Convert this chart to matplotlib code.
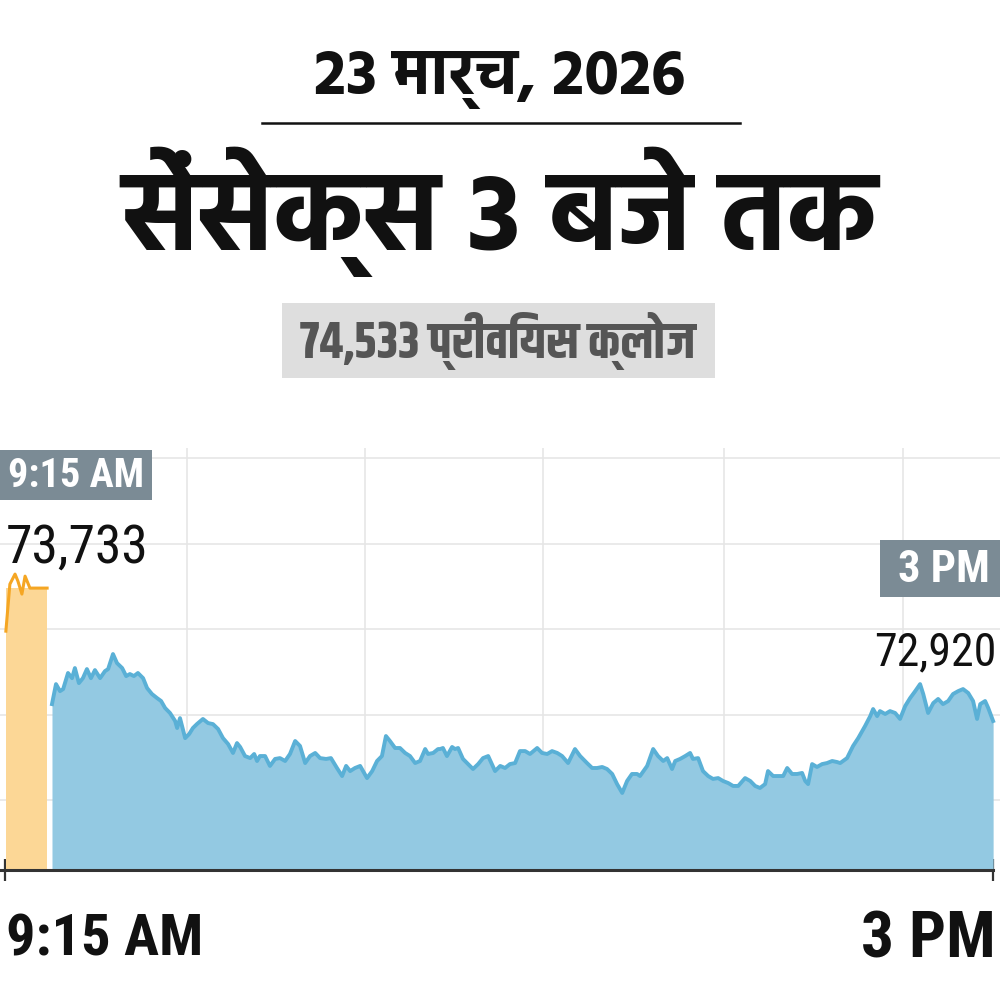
import numpy as np
import matplotlib
matplotlib.use("Agg")
import matplotlib.pyplot as plt
from matplotlib import font_manager
from matplotlib.ft2font import FT2Font
from matplotlib.patches import Rectangle
from matplotlib.lines import Line2D

# --- data: Sensex on 23 March 2026, minutes after 9:15 AM ---
open_minutes = [0.3, 1.7, 3.5, 4.5, 5.9, 7.0, 8.7, 14.7]
open_values = [73488, 73763, 73822, 73781, 73705, 73810, 73740, 73740]

day_minutes = [
    16.4, 17.8, 19.2, 20.3, 22.0, 23.4, 24.4, 25.8, 27.2, 28.6, 30.0, 31.4, 33.2, 34.9, 36.0,
    37.7, 39.1, 40.9, 42.3, 43.6, 45.0, 46.4, 48.2, 49.6, 51.3, 53.1, 54.5, 55.9, 57.6, 59.4,
    60.1, 61.1, 62.9, 64.3, 65.6, 67.0, 69.1, 70.9, 72.6, 74.4, 76.1, 77.9, 79.6, 81.0, 82.1,
    83.8, 85.6, 87.0, 88.0, 89.0, 90.8, 92.5, 94.3, 96.0, 97.8, 99.5, 101.3, 103.0, 104.8, 106.5,
    108.3, 110.0, 112.1, 113.8, 115.9, 117.7, 119.1, 120.5, 122.2, 124.0, 126.4, 128.2, 129.9,
    131.6, 133.0, 134.4, 136.2, 137.9, 139.7, 141.4, 143.2, 144.9, 146.7, 147.7, 149.5, 151.2,
    151.9, 152.9, 154.3, 156.1, 157.1, 158.2, 159.9, 161.7, 163.4, 165.2, 166.9, 168.7, 171.1,
    172.9, 174.6, 176.3, 178.1, 179.8, 181.6, 183.3, 185.8, 187.5, 189.3, 191.0, 192.8, 194.5,
    196.6, 199.0, 200.8, 203.2, 205.0, 206.7, 208.5, 210.2, 212.0, 213.7, 215.5, 217.2, 218.9,
    220.7, 221.7, 224.2, 226.3, 228.0, 229.8, 231.2, 232.9, 234.0, 235.7, 237.5, 239.2, 240.2,
    242.0, 243.7, 245.5, 247.2, 249.0, 250.7, 252.5, 254.2, 256.0, 258.4, 260.2, 261.9, 263.6,
    265.4, 266.4, 268.2, 269.9, 271.7, 273.1, 274.8, 276.6, 278.3, 279.4, 280.4, 281.8, 283.5,
    285.3, 287.0, 288.8, 290.5, 291.6, 294.0, 296.1, 297.9, 300.3, 302.1, 303.1, 304.5, 305.5,
    307.3, 309.0, 310.8, 312.5, 314.3, 316.0, 317.8, 319.5, 320.6, 322.3, 324.1, 325.8, 327.5,
    329.3, 331.0, 332.8, 334.5, 336.3, 338.0, 339.4, 340.5, 342.2, 343.3, 345.0,
]
day_values = [
    73061, 73178, 73137, 73149, 73243, 73213, 73272, 73184, 73213, 73266, 73213, 73260, 73213, 73254, 73266,
    73354, 73301, 73272, 73225, 73237, 73225, 73243, 73213, 73155, 73120, 73096, 73079, 73038, 73009, 72962,
    72921, 72979, 72862, 72886, 72921, 72944, 72974, 72950, 72944, 72915, 72862, 72827, 72775, 72833, 72810,
    72757, 72745, 72769, 72728, 72757, 72757, 72699, 72740, 72745, 72728, 72769, 72845, 72816, 72716, 72757,
    72775, 72745, 72740, 72745, 72687, 72640, 72699, 72669, 72687, 72699, 72628, 72669, 72728,
    72757, 72874, 72845, 72804, 72804, 72775, 72757, 72716, 72728, 72798, 72769, 72775, 72798,
    72798, 72804, 72757, 72810, 72798, 72804, 72740, 72710, 72681, 72710, 72745, 72757, 72669,
    72699, 72687, 72710, 72716, 72786, 72786, 72769, 72804, 72775, 72769, 72786, 72775, 72757,
    72716, 72798, 72757, 72716, 72687, 72687, 72693, 72681, 72652, 72593, 72541, 72611, 72652,
    72652, 72640, 72699, 72798, 72757, 72728, 72745, 72681, 72728, 72740, 72757, 72775, 72740,
    72745, 72669, 72640, 72623, 72628, 72611, 72599, 72582, 72582, 72628, 72611, 72582, 72570,
    72593, 72669, 72640, 72640, 72640, 72687, 72652, 72652, 72658, 72611, 72593, 72710, 72693,
    72710, 72716, 72728, 72722, 72716, 72745, 72816, 72862, 72933, 72991, 73032, 72991, 73020,
    73003, 73020, 73009, 72974, 73050, 73096, 73137, 73178, 73120, 73009, 73067, 73091, 73061,
    73079, 73120, 73137, 73149, 73126, 73079, 72974, 73061, 73079, 73038, 72962,
]

title_date = "23 मार्च, 2026"
title_main = "सेंसेक्स 3 बजे तक"
prev_close_label = "74,533 प्रीवियस क्लोज"
start_label, start_value = "9:15 AM", "73,733"
end_label, end_value = "3 PM", "72,920"
y_grid = [72500, 73000, 73500, 74000, 74500]
x_grid = [63.5, 125.7, 187.9, 251.1, 313.6]


# pick installed fonts: one that has Devanagari glyphs, one narrow Latin face
def covers(fname, ch):
    try:
        return ord(ch) in FT2Font(fname).get_charmap()
    except Exception:
        return False


deva_names = {f.name for f in font_manager.fontManager.ttflist if covers(f.fname, "स")}
all_names = {f.name for f in font_manager.fontManager.ttflist}


def pick(prefs, pool):
    for p in prefs:
        if p in pool:
            return p
    return None


deva = pick(["Hind", "Mukta", "Noto Sans Devanagari", "Yantramanav", "Poppins",
             "Martel Sans", "FreeSans"], deva_names)
deva_narrow = pick(["Khand", "Teko", "Rajdhani", "Hind", "Mukta", "FreeSans"], deva_names) or deva
narrow = pick(["Roboto Condensed", "Barlow Condensed", "Archivo Narrow", "Asap Condensed"], all_names)
HINDI = [deva, "DejaVu Sans"] if deva else ["DejaVu Sans"]
HINDI_N = [deva_narrow, "DejaVu Sans"] if deva_narrow else HINDI
NARROW = [narrow, "DejaVu Sans"] if narrow else ["DejaVu Sans"]

fig = plt.figure(figsize=(10, 10), dpi=100)
renderer = fig.canvas.get_renderer()


def fit_text(x, y, s, size, left, right, **kw):
    # place a figure text (x, y in pixels from top-left) and shrink it until it fits
    t = fig.text(x / 1000, 1 - y / 1000, s, fontsize=size, **kw)
    while size > 6:
        bb = t.get_window_extent(renderer)
        if bb.x0 >= left and bb.x1 <= right:
            break
        size -= 0.5
        t.set_fontsize(size)
    return t


# chart area
ax = fig.add_axes([0, 0.13, 1, 0.422])
ax.set_xlim(-1.75, 347.4)
ax.set_ylim(72090, 74560)

ax.fill_between(open_minutes, 72090, open_values[-1], color="#fcd796", lw=0, zorder=2)
ax.plot(open_minutes, open_values, color="#f5a623", lw=2.2, zorder=3)
ax.fill_between(day_minutes, 72090, day_values, color="#93c9e2", lw=0, zorder=2)
ax.plot(day_minutes, day_values, color="#5ab0d6", lw=2.8, zorder=3)

ax.set_yticks(y_grid)
ax.set_xticks(x_grid, minor=True)
ax.set_xticks([0, 345])
ax.grid(axis="y", color="#e6e6e6", lw=1.2, zorder=0)
ax.grid(axis="x", which="minor", color="#e6e6e6", lw=1.2, zorder=0)
ax.tick_params(axis="y", left=False, labelleft=False)
ax.tick_params(axis="x", which="minor", bottom=False)
ax.tick_params(axis="x", which="major", direction="inout", length=16, width=1.6,
               color="#333333", labelbottom=False)
for s in ["top", "right", "left"]:
    ax.spines[s].set_visible(False)
ax.spines["bottom"].set_color("#333333")
ax.spines["bottom"].set_linewidth(2.2)
ax.spines["bottom"].set_bounds(-1.75, 345)

# headings
fit_text(500, 80, title_date, 46, 300, 700, ha="center", va="center",
         fontweight="bold", family=HINDI, color="#111111")
fig.add_artist(Line2D([0.262, 0.740], [1 - 0.123, 1 - 0.123], color="#111111", lw=1.8))
fit_text(500, 212, title_main, 80, 110, 890, ha="center", va="center",
         fontweight="bold", family=HINDI, color="#111111")

fig.add_artist(Rectangle((0.282, 1 - 0.378), 0.433, 0.075, color="#dedede", lw=0))
fit_text(498, 341, prev_close_label, 40, 300, 698, ha="center", va="center",
         fontweight="bold", family=HINDI_N, color="#555555")

# start / end call-outs
fig.add_artist(Rectangle((0, 1 - 0.500), 0.152, 0.050, color="#7b8b95", lw=0))
fit_text(8, 476, start_label, 32, 4, 146, ha="left", va="center",
         fontweight="bold", family=NARROW, color="white")
fit_text(6, 548, start_value, 44, 4, 150, ha="left", va="center",
         family=NARROW, color="#111111")

fig.add_artist(Rectangle((0.880, 1 - 0.597), 0.12, 0.057, color="#7b8b95", lw=0))
fit_text(898, 570, end_label, 32, 880, 996, ha="left", va="center",
         fontweight="bold", family=NARROW, color="white")
fit_text(874, 652, end_value, 44, 860, 997, ha="left", va="center",
         family=NARROW, color="#111111")

fit_text(6, 940, start_label, 50, 4, 205, ha="left", va="center",
         fontweight="bold", family=NARROW, color="#111111")
fit_text(996, 940, end_label, 50, 860, 997, ha="right", va="center",
         fontweight="bold", family=NARROW, color="#111111")

fig.savefig("out.png", dpi=100, facecolor="white")
